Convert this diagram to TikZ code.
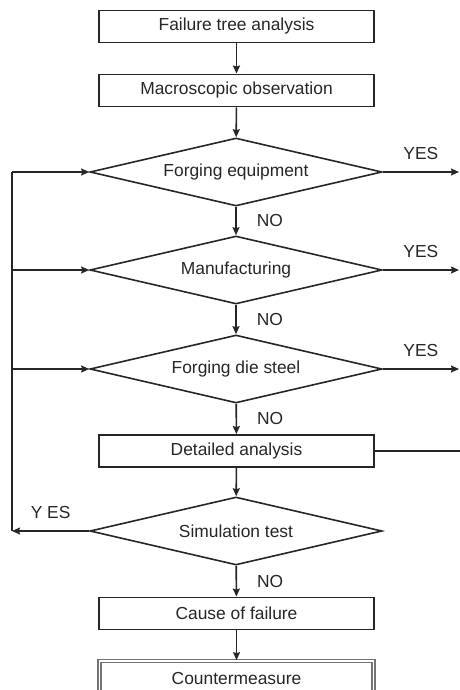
\documentclass[tikz,border=0pt]{standalone}
\usepackage{fontspec}
\setmainfont{Liberation Sans}
\usetikzlibrary{shapes.geometric,arrows.meta}
\tikzset{
	stepbox/.style={draw=black!85, line width=1.9pt, minimum width=275pt, minimum height=32pt, inner sep=0pt, fill=white},
	testbox/.style={diamond, draw=black!85, line width=1.6pt, shape aspect=4.3, minimum width=292pt, minimum height=68pt, inner sep=0pt},
	endbox/.style={draw=black!55, line width=1.7pt, double=white, double distance=1.2pt, minimum width=274pt, minimum height=36pt, inner sep=0pt},
	flow/.style={draw=black!85, line width=1.6pt, -{Stealth[length=8pt,width=7pt,inset=1pt]}},
	plain/.style={draw=black!85, line width=1.6pt},
	nolabel/.style={right, inner sep=2pt, xshift=18pt},
	yeslabel/.style={above=10pt, inner sep=2pt}
}

\begin{document}
\begin{tikzpicture}[x=1pt, y=-1pt, font=\fontsize{17.4}{20}\selectfont, text=black!85]
			%%%%% START %%%%%
			\useasboundingbox (0,0) rectangle (460,690);
			
			\node[stepbox] (fta) at (236.5,26.5) {Failure tree analysis};
			\node[stepbox] (macro) at (236.5,90.5) {Macroscopic observation};
			\node[testbox] (equip) at (236,172) {Forging equipment};
			\node[testbox] (manuf) at (236,270) {Manufacturing};
			\node[testbox] (steel) at (236,369) {Forging die steel};
			\node[stepbox] (detail) at (236.5,451) {Detailed analysis};
			\node[testbox] (simul) at (236,531) {Simulation test};
			\node[stepbox] (cause) at (236.5,613.5) {Cause of failure};
			\node[endbox] (counter) at (236.5,679) {Countermeasure};
			
			\coordinate (back) at (12,531);
			\coordinate (out1) at (459,172);
			\coordinate (out2) at (459,270);
			\coordinate (out3) at (459,369);
			\coordinate (out4) at (460,451);
			
			%% main line
			\draw[flow] (fta) -- (macro);
			\draw[flow] (macro) -- (equip);
			\draw[flow] (equip) -- node[nolabel] {NO} (manuf);
			\draw[flow] (manuf) -- node[nolabel] {NO} (steel);
			\draw[flow] (steel) -- node[nolabel] {NO} (detail);
			\draw[flow] (detail) -- (simul);
			\draw[flow] (simul) -- node[nolabel] {NO} (cause);
			\draw[flow] (cause) -- (counter);
			
			%% yes branches
			\draw[flow] (equip.east) -- node[yeslabel] {YES} (out1);
			\draw[flow] (manuf.east) -- node[yeslabel] {YES} (out2);
			\draw[flow] (steel.east) -- node[yeslabel] {YES} (out3);
			\draw[plain] (detail.east) -- (out4);
			
			%% loop back
			\draw[flow] (simul.west) -- node[yeslabel] {Y ES} (back);
			\draw[plain] (back) -- (back |- equip.west);
			\draw[flow] (back |- equip.west) -- (equip.west);
			\draw[flow] (back |- manuf.west) -- (manuf.west);
			\draw[flow] (back |- steel.west) -- (steel.west);
			
			%%%%% END %%%%%
\end{tikzpicture}
\end{document}
